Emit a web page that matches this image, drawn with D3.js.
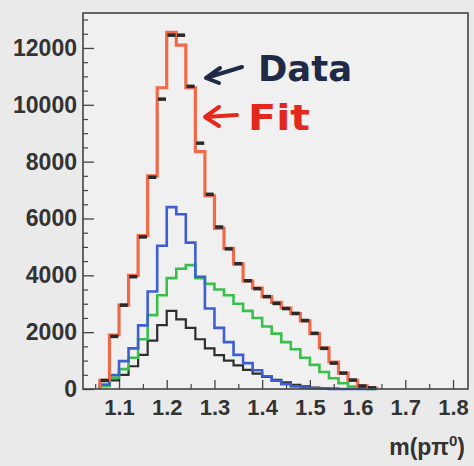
<!DOCTYPE html>
<html>
<head>
<meta charset="utf-8">
<script src="https://cdn.jsdelivr.net/npm/d3@7/dist/d3.min.js"></script>
<style>
  html, body { margin: 0; padding: 0; background: #eaeaea; }
  svg { display: block; }
</style>
</head>
<body>
<svg id="chart" width="474" height="466"></svg>
<script>
// Bin centres of the p pi0 invariant-mass histogram (bin width 0.02)
const binCenters = [1.07,1.09,1.11,1.13,1.15,1.17,1.19,1.21,1.23,1.25,1.27,1.29,1.31,1.33,1.35,
                    1.37,1.39,1.41,1.43,1.45,1.47,1.49,1.51,1.53,1.55,1.57,1.59,1.61,1.63];

// Measured counts per bin
const dataCounts = [300,1850,2950,3950,5350,7450,10200,12450,12450,10650,8650,6850,5700,4930,4410,
                    3810,3530,3250,3010,2830,2660,2410,1960,1430,910,560,315,105,40];
// Total fit
const fitCounts  = [300,1900,2950,4000,5400,7500,10600,12550,12100,10600,8350,6800,5650,4950,4400,
                    3800,3550,3250,3050,2850,2650,2400,1950,1450,950,560,300,110,30];
// Fit components
const blueCounts  = [150,490,980,1430,2240,3430,5040,6400,6150,5150,3950,2830,2150,1650,1200,
                     910,660,450,290,170,90,50,25,10,0,0,0,0,0];
const greenCounts = [100,400,700,1100,1750,2600,3300,3900,4230,4360,3900,3700,3500,3300,3000,
                     2750,2500,2200,1950,1650,1400,1100,850,600,380,200,90,30,0];
const blackCounts = [150,300,500,800,1200,1700,2250,2750,2450,2150,1750,1430,1190,1000,830,
                     670,540,430,320,230,150,90,50,25,10,0,0,0,0];

// Axis ticks
const yMajorTicks = [0,2000,4000,6000,8000,10000,12000];
const yMinorTicks = [500,1000,1500,2500,3000,3500,4500,5000,5500,6500,7000,7500,8500,9000,9500,
                     10500,11000,11500,12500,13000];
const xMajorTicks = [1.1,1.2,1.3,1.4,1.5,1.6,1.7,1.8];
const xMinorTicks = [1.05,1.15,1.25,1.35,1.45,1.55,1.65,1.75];

const svg = d3.select("#chart");
const plotLeft = 83, plotRight = 468, plotTop = 13, plotBottom = 389;

const x = d3.scaleLinear().domain([1.0245, 1.8314]).range([plotLeft, plotRight]);
const y = d3.scaleLinear().domain([0, 13230]).range([plotBottom, plotTop]);

// plot area
svg.append("rect")
  .attr("x", plotLeft).attr("y", plotTop)
  .attr("width", plotRight - plotLeft).attr("height", plotBottom - plotTop)
  .attr("fill", "#f0f0f0");

const tickFont = "'Liberation Sans', Arial, sans-serif";

// y axis: major ticks with labels, minor ticks inward
const yAxis = svg.append("g").attr("transform", `translate(${plotLeft},0)`)
  .call(d3.axisLeft(y).tickValues(yMajorTicks).tickSize(-11).tickPadding(6).tickFormat(d3.format("d")));
yAxis.select(".domain").remove();
yAxis.selectAll("line").attr("stroke", "#444").attr("stroke-width", 1.3);
yAxis.selectAll("text").attr("font-family", tickFont).attr("font-weight", "bold")
  .attr("font-size", 23).attr("fill", "#333");

const yMinor = svg.append("g").attr("transform", `translate(${plotLeft},0)`)
  .call(d3.axisLeft(y).tickValues(yMinorTicks).tickSize(-5).tickFormat(""));
yMinor.select(".domain").remove();
yMinor.selectAll("line").attr("stroke", "#444").attr("stroke-width", 1.2);

// x axis
const xAxis = svg.append("g").attr("transform", `translate(0,${plotBottom})`)
  .call(d3.axisBottom(x).tickValues(xMajorTicks).tickSize(-9).tickPadding(10).tickFormat(d3.format(".1f")));
xAxis.select(".domain").remove();
xAxis.selectAll("line").attr("stroke", "#444").attr("stroke-width", 1.3);
xAxis.selectAll("text").attr("font-family", tickFont).attr("font-weight", "bold")
  .attr("font-size", 22).attr("fill", "#333");

const xMinor = svg.append("g").attr("transform", `translate(0,${plotBottom})`)
  .call(d3.axisBottom(x).tickValues(xMinorTicks).tickSize(-5).tickFormat(""));
xMinor.select(".domain").remove();
xMinor.selectAll("line").attr("stroke", "#444").attr("stroke-width", 1.2);

// step outline of a histogram
const halfWidth = (binCenters[1] - binCenters[0]) / 2;
function stepPoints(vals) {
  const pts = [[binCenters[0] - halfWidth, 0]];
  vals.forEach((v, i) => {
    pts.push([binCenters[i] - halfWidth, v]);
    pts.push([binCenters[i] + halfWidth, v]);
  });
  pts.push([binCenters[binCenters.length - 1] + halfWidth, 0]);
  return pts;
}
const line = d3.line().x(d => x(d[0])).y(d => y(d[1]));

const series = [
  { vals: blackCounts, color: "#2e2e2e", width: 2.2 },
  { vals: greenCounts, color: "#3bbf4c", width: 2.6 },
  { vals: blueCounts,  color: "#3d5fd2", width: 2.6 },
  { vals: fitCounts,   color: "#ef6a48", width: 3.2 }
];
series.forEach(s => {
  svg.append("path")
    .attr("d", line(stepPoints(s.vals)))
    .attr("fill", "none")
    .attr("stroke", s.color)
    .attr("stroke-width", s.width)
    .attr("stroke-linejoin", "miter");
});

// data points drawn as short horizontal bars
svg.append("g").selectAll("line").data(binCenters).join("line")
  .attr("x1", (c) => x(c - halfWidth * 0.85))
  .attr("x2", (c) => x(c + halfWidth * 0.85))
  .attr("y1", (c, i) => y(dataCounts[i]))
  .attr("y2", (c, i) => y(dataCounts[i]))
  .attr("stroke", "#2a2a2a")
  .attr("stroke-width", 3.5);

// frame
svg.append("rect")
  .attr("x", plotLeft).attr("y", plotTop)
  .attr("width", plotRight - plotLeft).attr("height", plotBottom - plotTop)
  .attr("fill", "none").attr("stroke", "#444").attr("stroke-width", 1.6);

// x-axis title
const title = svg.append("text")
  .attr("x", 465).attr("y", 455)
  .attr("text-anchor", "end")
  .attr("font-family", tickFont).attr("font-weight", "bold")
  .attr("font-size", 23).attr("fill", "#333");
title.append("tspan").text("m(pπ");
title.append("tspan").attr("font-size", 15).attr("dy", -9).text("0");
title.append("tspan").attr("dy", 9).text(")");

// annotations
const hand = "'DejaVu Sans', sans-serif";
svg.append("path")
  .attr("d", "M242,67 L206,78 M220,68 L206,78 L219,83")
  .attr("fill", "none").attr("stroke", "#1e2a46").attr("stroke-width", 4)
  .attr("stroke-linecap", "round").attr("stroke-linejoin", "round");
svg.append("text")
  .attr("x", 258).attr("y", 81)
  .attr("font-family", hand).attr("font-weight", "bold").attr("font-size", 36)
  .attr("textLength", 94).attr("lengthAdjust", "spacingAndGlyphs")
  .attr("fill", "#1e2a46").text("Data");

svg.append("path")
  .attr("d", "M237,115 L205,117 M219,107 L205,117 L219,126")
  .attr("fill", "none").attr("stroke", "#e3291e").attr("stroke-width", 4)
  .attr("stroke-linecap", "round").attr("stroke-linejoin", "round");
svg.append("text")
  .attr("x", 248).attr("y", 130)
  .attr("font-family", hand).attr("font-weight", "bold").attr("font-size", 36)
  .attr("textLength", 62).attr("lengthAdjust", "spacingAndGlyphs")
  .attr("fill", "#e3291e").text("Fit");
</script>
</body>
</html>
